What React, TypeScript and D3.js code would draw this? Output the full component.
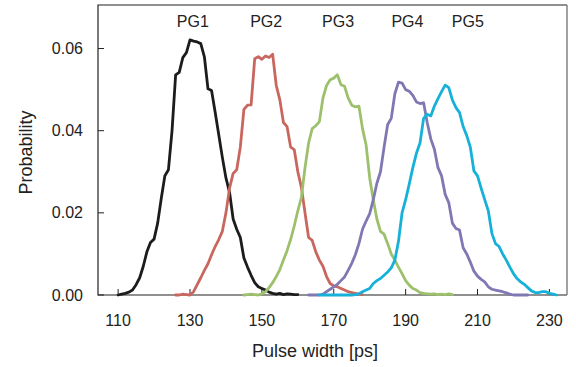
import React, { useEffect, useRef } from 'react';
import * as d3 from 'd3';

// pulse-width histograms, 1 ps bins, first bin given by *Start
const pg1Start = 110;
const pg1 = [
  0.0, 0.0002, 0.0004, 0.0007, 0.0012, 0.0025, 0.0042, 0.007, 0.0105, 0.0128,
  0.0136, 0.0175, 0.0235, 0.029, 0.0305, 0.04, 0.0536, 0.0542, 0.0578, 0.059,
  0.0621, 0.0618, 0.0616, 0.0612, 0.058, 0.0502, 0.0498, 0.0445, 0.039, 0.0335,
  0.0285, 0.025, 0.0185, 0.016, 0.014, 0.009, 0.0068, 0.0048, 0.003, 0.002,
  0.0016, 0.0012, 0.0007, 0.0004, 0.0002, 0.0004, 0.0001, 0.0003, 0.0002, 0.0001,
  0.0001,
];

const pg2Start = 126;
const pg2 = [
  0.0, 0.0, 0.0002, 0.0001, 0.0, 0.0008, 0.0025, 0.0042, 0.006, 0.0076,
  0.0098, 0.0118, 0.0135, 0.0155, 0.02, 0.026, 0.0296, 0.0305, 0.036, 0.0452,
  0.0462, 0.0463, 0.0575, 0.058, 0.0574, 0.0582, 0.0578, 0.0586, 0.051, 0.0475,
  0.042, 0.041, 0.036, 0.0354, 0.03, 0.0262, 0.02, 0.014, 0.0133, 0.0105,
  0.0085, 0.007, 0.0045, 0.0028, 0.0022, 0.002, 0.0016, 0.0012, 0.0008, 0.0006,
  0.0004, 0.0002, 0.0001,
];

const pg3Start = 145;
const pg3 = [
  0.0, 0.0001, 0.0002, 0.0001, 0.0, 0.0003, 0.0008, 0.0018, 0.003, 0.0045,
  0.0062, 0.0085, 0.0108, 0.0135, 0.0168, 0.0205, 0.0238, 0.031, 0.037, 0.0405,
  0.0412, 0.0422, 0.048, 0.051, 0.0524, 0.0528, 0.0536, 0.0512, 0.0508, 0.048,
  0.0462, 0.0458, 0.046, 0.0405, 0.0365, 0.0285, 0.0232, 0.0185, 0.0155, 0.0148,
  0.0125, 0.01, 0.0085, 0.0068, 0.0052, 0.0035, 0.0024, 0.0016, 0.0012, 0.0006,
  0.0004, 0.0003, 0.0002, 0.0003, 0.0001, 0.0002, 0.0001, 0.0003, 0.0001,
];

const pg4Start = 163;
const pg4 = [
  0.0, 0.0, 0.0, 0.0, 0.0002, 0.0008, 0.0014, 0.002, 0.0026, 0.0035,
  0.0044, 0.006, 0.0077, 0.0098, 0.0125, 0.016, 0.018, 0.0198, 0.0232, 0.0272,
  0.03, 0.036, 0.0415, 0.043, 0.049, 0.0518, 0.0516, 0.05, 0.0496, 0.0486,
  0.047, 0.0466, 0.0468, 0.042, 0.038, 0.0355, 0.031, 0.029, 0.0245, 0.0225,
  0.0175, 0.0162, 0.0158, 0.0115, 0.01, 0.008, 0.0058, 0.0046, 0.0038, 0.0032,
  0.002, 0.0014, 0.0012, 0.001, 0.0008, 0.0005, 0.0002, 0.0, 0.0, 0.0,
  0.0, 0.0,
];

const pg5Start = 166;
const pg5 = [
  0.0, 0.0, 0.0, 0.0, 0.0, 0.0, 0.0, 0.0, 0.0, 0.0,
  0.0001, 0.0003, 0.0008, 0.0012, 0.0016, 0.0028, 0.0035, 0.004, 0.0048, 0.0056,
  0.0066, 0.0085, 0.013, 0.02, 0.0232, 0.027, 0.031, 0.0345, 0.037, 0.043,
  0.044, 0.0436, 0.046, 0.0478, 0.0495, 0.0511, 0.0505, 0.0475, 0.0456, 0.0444,
  0.041, 0.0388, 0.036, 0.0302, 0.029, 0.026, 0.0232, 0.0205, 0.015, 0.0125,
  0.0118, 0.01, 0.0085, 0.0068, 0.0052, 0.004, 0.0032, 0.0026, 0.0018, 0.001,
  0.0006, 0.0006, 0.0008, 0.0008, 0.0004, 0.0002, 0.0,
];

const seriesNames = ['PG1', 'PG2', 'PG3', 'PG4', 'PG5'];
const seriesColors = ['#1c1c1c', '#c9675f', '#9dc06c', '#8078b3', '#16b1d9'];
const seriesStarts = [pg1Start, pg2Start, pg3Start, pg4Start, pg5Start];
const seriesValues = [pg1, pg2, pg3, pg4, pg5];
// where each label sits along the pulse-width axis
const labelAt = [130.8, 151.2, 171.2, 190.5, 207.3];

const xTicks = [110, 130, 150, 170, 190, 210, 230];
const yTicks = [0, 0.02, 0.04, 0.06];

const App: React.FC = () => {
  const svgRef = useRef<SVGSVGElement>(null);

  useEffect(() => {
    document.body.style.margin = '0';
    if (!svgRef.current) return;
    const svg = d3.select(svgRef.current);
    svg.selectAll('*').remove();

    const width = 576;
    const height = 367;
    const left = 98, right = 567, top = 5, bottom = 295;
    const font = 'Liberation Sans, Arial, Helvetica, sans-serif';
    const ink = '#222';

    const x = d3.scaleLinear().domain([104.4, 234.9]).range([left, right]);
    const y = d3.scaleLinear().domain([0, 0.0706]).range([bottom, top]);

    svg.attr('width', width).attr('height', height);

    // frame: dark left/top/bottom, lighter right edge
    svg.append('path')
      .attr('d', `M${right},${top}H${left}V${bottom}H${right}`)
      .attr('fill', 'none').attr('stroke', ink).attr('stroke-width', 1.2);
    svg.append('line')
      .attr('x1', right).attr('x2', right)
      .attr('y1', top).attr('y2', bottom)
      .attr('stroke', '#8a8a8a').attr('stroke-width', 1.6);

    // x ticks (inward) + labels
    const xg = svg.append('g');
    xg.selectAll('line').data(xTicks).enter().append('line')
      .attr('x1', d => x(d)).attr('x2', d => x(d))
      .attr('y1', bottom).attr('y2', bottom - 6)
      .attr('stroke', ink).attr('stroke-width', 1);
    xg.selectAll('text').data(xTicks).enter().append('text')
      .attr('x', d => x(d)).attr('y', 326)
      .attr('text-anchor', 'middle')
      .attr('font-family', font).attr('font-size', 16).attr('fill', ink)
      .text(d => d);

    // y ticks (inward) + labels
    const yg = svg.append('g');
    yg.selectAll('line').data(yTicks).enter().append('line')
      .attr('x1', left).attr('x2', left + 6)
      .attr('y1', d => y(d)).attr('y2', d => y(d))
      .attr('stroke', ink).attr('stroke-width', 1);
    yg.selectAll('text').data(yTicks).enter().append('text')
      .attr('x', 83).attr('y', d => y(d) + 5.5)
      .attr('text-anchor', 'end')
      .attr('font-family', font).attr('font-size', 16).attr('fill', ink)
      .text(d => d3.format('.2f')(d));

    // axis titles
    svg.append('text')
      .attr('x', 315).attr('y', 357)
      .attr('text-anchor', 'middle')
      .attr('font-family', font).attr('font-size', 18).attr('fill', ink)
      .text('Pulse width [ps]');
    svg.append('text')
      .attr('transform', 'translate(32,152.5) rotate(-90)')
      .attr('text-anchor', 'middle')
      .attr('font-family', font).attr('font-size', 18).attr('fill', ink)
      .text('Probability');

    // curves
    seriesValues.forEach((vals, s) => {
      const start = seriesStarts[s];
      const path = d3.line<number>()
        .x((_, i) => x(start + i))
        .y(d => y(d));
      svg.append('path')
        .datum(vals)
        .attr('d', path)
        .attr('fill', 'none')
        .attr('stroke', seriesColors[s])
        .attr('stroke-width', 2.8)
        .attr('stroke-linejoin', 'round')
        .attr('stroke-linecap', 'round');
    });

    // series labels
    svg.append('g').selectAll('text').data(seriesNames).enter().append('text')
      .attr('x', (_, i) => x(labelAt[i])).attr('y', 27)
      .attr('text-anchor', 'middle')
      .attr('font-family', font).attr('font-size', 16).attr('fill', ink)
      .text(d => d);
  }, []);

  return <svg ref={svgRef} style={{ display: 'block' }} />;
};

export default App;
